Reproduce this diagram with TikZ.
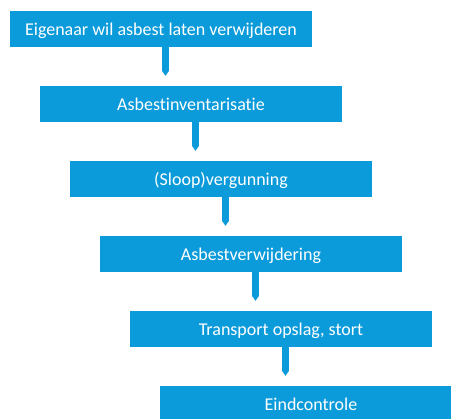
\documentclass[tikz,border=0pt]{standalone}
\usepackage{fontspec}
\setmainfont[Ligatures=NoCommon]{Carlito}
\usetikzlibrary{arrows.meta}

\definecolor{stepblue}{HTML}{0C9BDA}

\tikzset{
	stepbox/.style={
		fill=stepblue, text=white, inner sep=0pt,
		minimum width=302pt, minimum height=36pt,
		text height=12.5pt, text depth=0pt,
		font=\fontsize{18}{21}\selectfont
	},
	flowarrow/.style={
		stepblue, line width=7pt,
		-{Triangle[width=7pt,length=5pt,line width=0pt]},
		shorten >=10pt
	}
}

\begin{document}
\begin{tikzpicture}[x=1pt, y=1pt]
	\useasboundingbox (0,0) rectangle (451,-419);
	\clip (0,0) rectangle (451,-419);
	% the steps, each one shifted to the right
	\foreach \txt [count=\i from 0] in {Eigenaar wil asbest laten verwijderen, Asbestinventarisatie, (Sloop)vergunning, Asbestverwijdering, {Transport opslag, stort}, Eindcontrole}
		\node[stepbox] (b\i) at ({161+30*\i},{-29-75*\i}) {\txt};
	% arrows between the steps
	\foreach \i [evaluate=\i as \j using int(\i+1)] in {0,...,4}
		\draw[flowarrow] ([xshift=4.5pt]b\i.south) -- ([xshift=4.5pt]b\i.south |- b\j.north);
\end{tikzpicture}
\end{document}
